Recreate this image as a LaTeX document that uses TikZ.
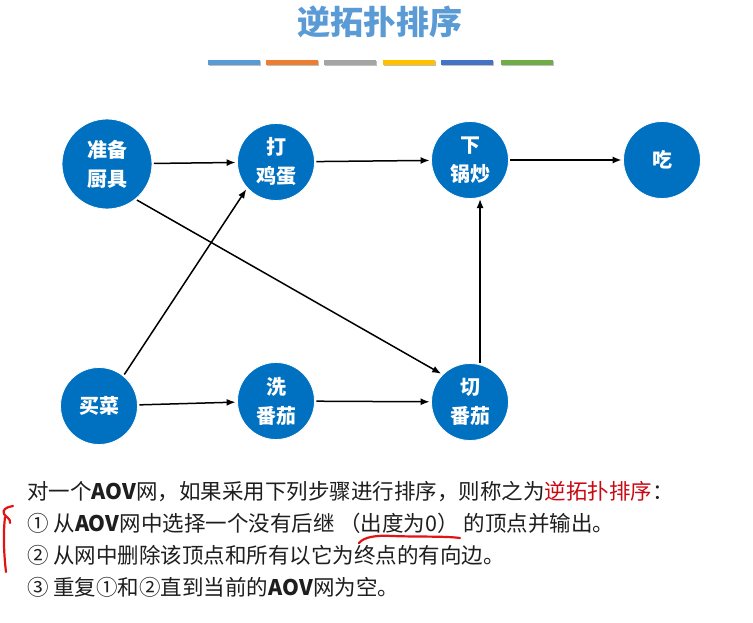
\documentclass[tikz,border=0pt]{standalone}
\usepackage{fontspec}
\setmainfont{Noto Sans CJK SC}
\usetikzlibrary{arrows.meta}
\definecolor{nodeblue}{RGB}{0,112,192}
\definecolor{titleblue}{RGB}{91,155,213}
\definecolor{txt}{RGB}{30,30,30}
\definecolor{hl}{RGB}{200,10,20}
\definecolor{barA}{RGB}{91,155,213}
\definecolor{barB}{RGB}{237,125,49}
\definecolor{barC}{RGB}{165,165,165}
\definecolor{barD}{RGB}{255,192,0}
\definecolor{barE}{RGB}{68,114,196}
\definecolor{barF}{RGB}{112,173,71}
\definecolor{pen}{RGB}{225,20,20}
\tikzset{
  vtx/.style={circle, fill=nodeblue, draw=white, line width=0.8pt, inner sep=0pt,
    minimum size=77pt, text=white, align=center,
    font=\bfseries\fontsize{20}{29}\selectfont},
  bigvtx/.style={vtx, minimum size=90pt},
  arr/.style={-{Latex[length=9pt,width=7pt]}, line width=1.5pt, black,
    shorten >=1.5pt, shorten <=1.5pt},
  line/.style={anchor=west, text=txt, font=\fontsize{21.5}{24}\selectfont, inner sep=0pt},
  penline/.style={draw=pen, line width=2.2pt, line cap=round, line join=round}
}
\begin{document}
\begin{tikzpicture}[x=1pt,y=-1pt]
\useasboundingbox (0,0) rectangle (753,623);
\fill[white] (0,0) rectangle (753,623);

% title
\node[text=titleblue, font=\bfseries\fontsize{33}{36}\selectfont] (title) at (380,22) {逆拓扑排序};

% colour bars
\foreach \x/\c in {208/barA,266/barB,324/barC,383/barD,441/barE,501/barF}{
  \fill[black!25] (\x+0.5,61.5) rectangle (\x+52.5,66.5);
  \fill[\c] (\x,60) rectangle (\x+52,65);
}

% nodes
\node[bigvtx] (zb) at (107,164) {准备\\厨具};
\node[vtx] (da) at (276,162) {打\\鸡蛋};
\node[vtx] (xia) at (470,160) {下\\锅炒};
\node[vtx] (chi) at (662,160) {吃};
\node[vtx] (mai) at (99,406) {买菜};
\node[vtx] (xi) at (276,401) {洗\\番茄};
\node[vtx] (qie) at (470,402) {切\\番茄};

% edges
\draw[arr] (zb) -- (da);
\draw[arr] (da) -- (xia);
\draw[arr] (xia) -- (chi);
\draw[arr] (zb.-51) -- (qie.135);
\draw[arr] (mai.51) -- (da.222);
\draw[arr] (qie.75) -- (xia.-75);
\draw[arr] (mai) -- (xi);
\draw[arr] (xi) -- (qie);

% text
\node[line] (l1) at (27,492) {对一个\textbf{AOV}网，如果采用下列步骤进行排序，则称之为\textcolor{hl}{逆拓扑排序}：};
\node[line] (l2) at (27,523) {① 从\textbf{AOV}网中选择一个没有后继 （出度为0） 的顶点并输出。};
\node[line] (l3) at (27,555) {② 从网中删除该顶点和所有以它为终点的有向边。};
\node[line] (l4) at (27,587) {③ 重复①和②直到当前的\textbf{AOV}网为空。};

% red pen annotations
\draw[penline] (359,543) .. controls (364,537) and (376,535) .. (392,536) .. controls (418,537) and (445,536) .. (460,538);
\draw[penline] (13,506) .. controls (6,507) and (2,510) .. (4,514) .. controls (6,517) and (11,519) .. (10,523);
\draw[penline] (5,517) .. controls (3,535) and (4,555) .. (6,572);
\end{tikzpicture}
\end{document}
